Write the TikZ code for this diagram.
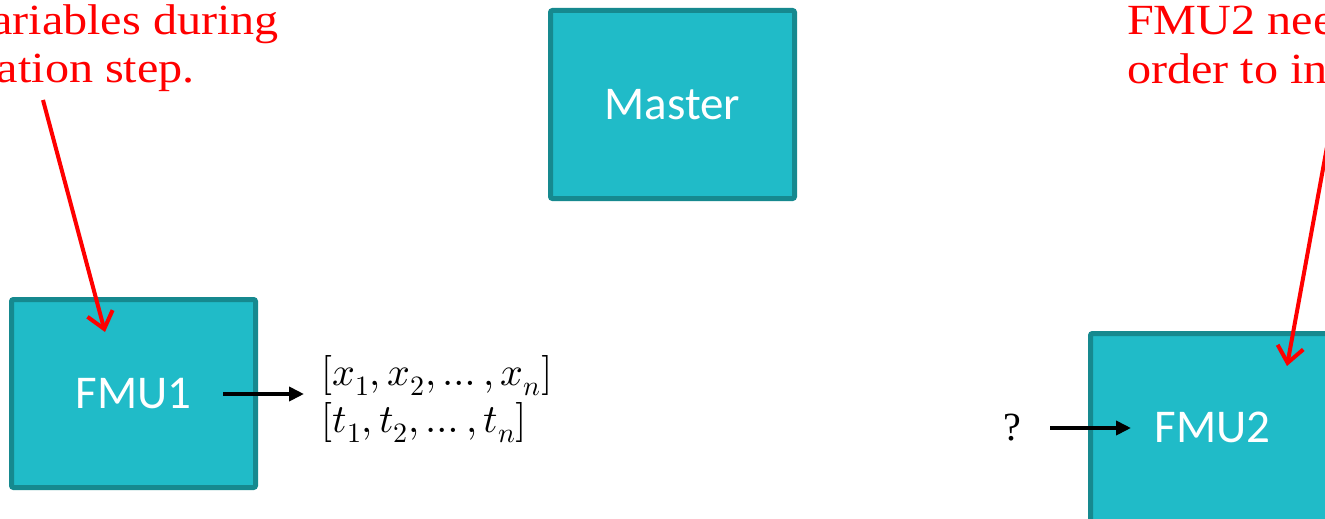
\documentclass[tikz,border=0pt]{standalone}
\usepackage{fontspec}
\usepackage{unicode-math}
\setmainfont{Liberation Serif}
\newfontfamily\notefont[FakeStretch=1.12]{Liberation Serif}
\newfontfamily\boxfont{Carlito}
\usetikzlibrary{arrows.meta}
\definecolor{tealfill}{RGB}{32,187,200}
\definecolor{tealedge}{RGB}{22,137,143}
\definecolor{notered}{RGB}{255,0,0}
\tikzset{
  fmubox/.style={draw=tealedge, fill=tealfill, line width=5pt, rounded corners=2pt,
    minimum width=244pt, minimum height=188pt, inner sep=0pt,
    font=\boxfont\fontsize{47}{56}\selectfont, text=white},
  flow/.style={line width=4pt, -{Triangle[length=15pt,width=14pt]}},
  note/.style={text=notered, font=\notefont\fontsize{43}{47}\selectfont, inner sep=0pt},
  callout/.style={draw=notered, line width=4pt, -{Straight Barb[length=16pt,width=26pt]}},
}
\begin{document}
\begin{tikzpicture}[x=1pt,y=-1pt]
\useasboundingbox (0,0) rectangle (1325,519);
\clip (0,0) rectangle (1325,519);
\fill[white] (0,0) rectangle (1325,519);

\node[fmubox] (master) at (672.5,104.5) {Master};
\node[fmubox] (fmu1) at (133.5,393.5) {FMU1};
\node[fmubox] (fmu2) at (1212.5,427.5) {FMU2};

\node[anchor=west, align=left, inner sep=0pt, font=\fontsize{40}{47}\selectfont] (vec) at (321,399)
  {$[x_1,x_2,\ldots,x_n]$\\$[t_1,t_2,\ldots,t_n]$};
\node[font=\fontsize{40}{48}\selectfont, inner sep=0pt] (q) at (1012,428) {?};

\coordinate (a1s) at (223,394);
\coordinate (a1e) at (304,394);
\draw[flow] (a1s) -- (a1e);
\coordinate (a2s) at (1050,428);
\coordinate (a2e) at (1131,428);
\draw[flow] (a2s) -- (a2e);

\node[note, anchor=base east] (l1) at (279,35) {ariables during};
\node[note, anchor=base east] (l2) at (195,82) {ation step.};
\node[note, anchor=base west] (r1) at (1127,35) {FMU2 nee};
\node[note, anchor=base west] (r2) at (1127,84) {order to in};

\coordinate (c1s) at (43,100);
\coordinate (c1e) at (105,332);
\draw[callout] (c1s) -- (c1e);
\coordinate (c2s) at (1331,125);
\coordinate (c2e) at (1287,366);
\draw[callout] (c2s) -- (c2e);
\end{tikzpicture}
\end{document}
